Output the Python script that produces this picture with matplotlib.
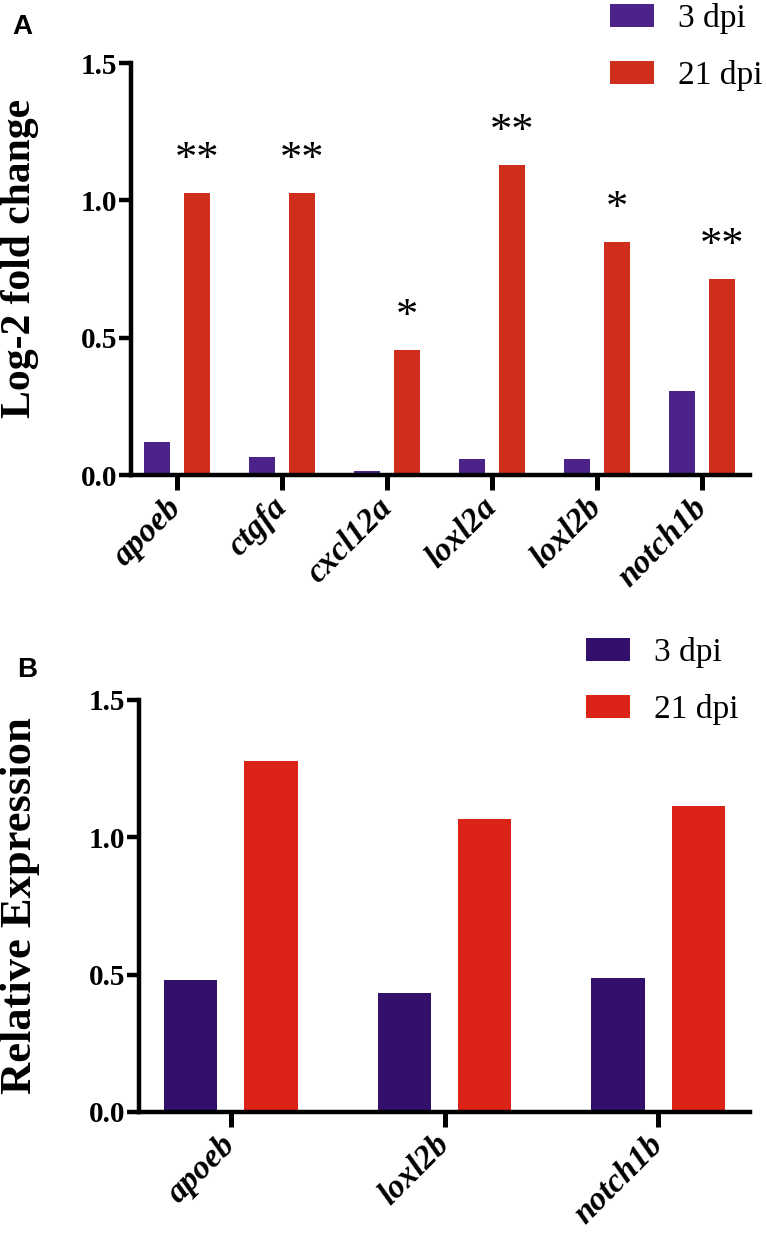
import matplotlib
matplotlib.use("Agg")
import matplotlib.pyplot as plt
from matplotlib.patches import Patch
import numpy as np

# ---- data ----
genes_a = ["apoeb", "ctgfa", "cxcl12a", "loxl2a", "loxl2b", "notch1b"]
dpi3_a = [0.12, 0.065, 0.015, 0.06, 0.06, 0.307]
dpi21_a = [1.027, 1.027, 0.456, 1.128, 0.847, 0.712]
stars_a = ["**", "**", "*", "**", "*", "**"]

genes_b = ["apoeb", "loxl2b", "notch1b"]
dpi3_b = [0.482, 0.435, 0.489]
dpi21_b = [1.277, 1.066, 1.115]

series_labels = ["3 dpi", "21 dpi"]
yticks = [0.0, 0.5, 1.0, 1.5]
ytick_labels = ["0.0", "0.5", "1.0", "1.5"]

W, H = 766, 1234
fig = plt.figure(figsize=(W / 100, H / 100), dpi=100)

SERIF = ["Liberation Serif", "DejaVu Serif"]
SANS = ["Liberation Sans", "DejaVu Sans"]


def fx(px):
    return px / W


def fy(py):
    return 1 - py / H


def style_axes(ax, ylabel, ncat, xlim, lsize, lx, ly):
    for s in ["top", "right"]:
        ax.spines[s].set_visible(False)
    for s in ["left", "bottom"]:
        ax.spines[s].set_linewidth(3.2)
        ax.spines[s].set_capstyle("projecting")
    ax.set_ylim(0, 1.5)
    ax.set_xlim(*xlim)
    ax.set_yticks(yticks)
    ax.set_yticklabels(ytick_labels, fontfamily=SERIF, fontweight="bold", fontsize=21)
    ax.tick_params(axis="y", length=9, width=3.2, pad=1)
    ax.tick_params(axis="x", length=11, width=3.6, pad=9)
    ax.set_ylabel(ylabel, fontfamily=SERIF, fontweight="bold", fontsize=lsize)
    ax.yaxis.set_label_coords(lx, ly)
    ax.set_xticks(np.arange(ncat))


def legend(colors, x, y):
    handles = [Patch(facecolor=c, edgecolor="none") for c in colors]
    fig.legend(handles, series_labels, loc="upper left", bbox_to_anchor=(fx(x), fy(y)),
               frameon=False, prop={"family": SERIF, "size": 24},
               handlelength=1.32, handleheight=0.66, handletextpad=0.72,
               labelspacing=0.78, borderpad=0, borderaxespad=0)


# ---- Panel A ----
c3a, c21a = "#4b238a", "#d02e1c"
axA = fig.add_axes([fx(131), fy(475), fx(750) - fx(131), fy(63) - fy(475)])
xa = np.arange(len(genes_a))
bw = 0.248
off = 0.187
axA.bar(xa - off, dpi3_a, width=bw, color=c3a, zorder=1)
axA.bar(xa + off, dpi21_a, width=bw, color=c21a, zorder=1)
style_axes(axA, "Log-2 fold change", len(genes_a), (-0.438, 5.457), 30,
           (39 - 131) / 619, 0.525)
axA.set_xticklabels(genes_a, rotation=45, ha="right", va="center", rotation_mode="anchor",
                    fontfamily=SERIF, fontweight="bold", fontstyle="italic", fontsize=24)
for xi, v, s in zip(xa, dpi21_a, stars_a):
    axA.annotate(s, xy=(xi + off, v), xytext=(0, 16), textcoords="offset points",
                 ha="center", va="baseline", fontsize=32, fontfamily=SERIF)
legend([c3a, c21a], 610, 3)
fig.text(fx(12), fy(34), "A", fontfamily=SANS, fontweight="bold", fontsize=20,
         ha="left", va="baseline")

# ---- Panel B ----
c3b, c21b = "#33106b", "#dc2318"
axB = fig.add_axes([fx(139), fy(1112), fx(750) - fx(139), fy(700) - fy(1112)])
xb = np.arange(len(genes_b))
bwb = 0.249
offb = 0.188
axB.bar(xb - offb, dpi3_b, width=bwb, color=c3b, zorder=1)
axB.bar(xb + offb, dpi21_b, width=bwb, color=c21b, zorder=1)
style_axes(axB, "Relative Expression", len(genes_b), (-0.43, 2.43), 32,
           (40 - 139) / 611, 0.5)
axB.set_xticklabels(genes_b, rotation=45, ha="right", va="center", rotation_mode="anchor",
                    fontfamily=SERIF, fontweight="bold", fontstyle="italic", fontsize=24)
legend([c3b, c21b], 586, 637)
fig.text(fx(17), fy(677), "B", fontfamily=SANS, fontweight="bold", fontsize=20,
         ha="left", va="baseline")

fig.savefig("out.png", dpi=100)
